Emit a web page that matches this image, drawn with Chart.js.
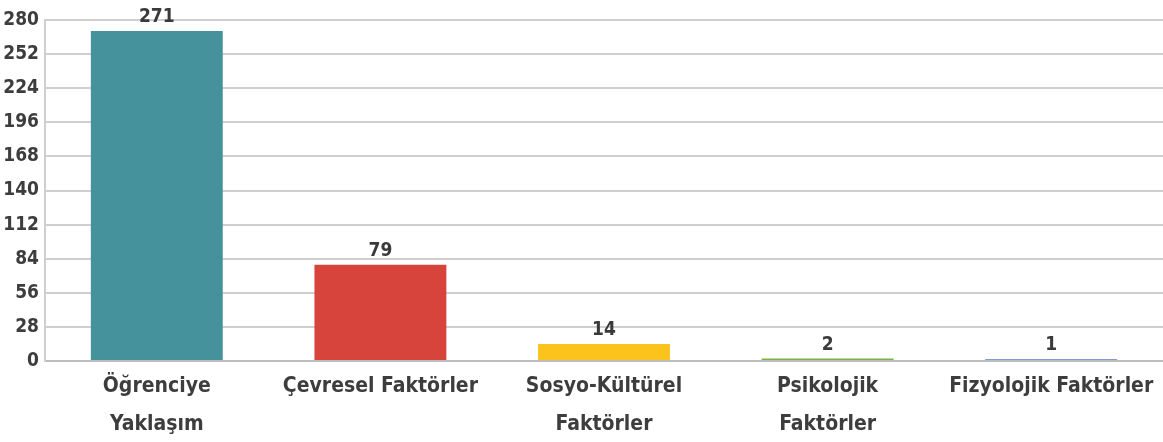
<!DOCTYPE html>
<html>
<head>
<meta charset="utf-8">
<script src="https://cdn.jsdelivr.net/npm/chart.js@4"></script>
<style>
  html, body { margin: 0; padding: 0; background: #fff; }
  #wrap { width: 1163px; height: 442px; }
</style>
</head>
<body>
<div id="wrap"><canvas id="grafik"></canvas></div>
<script>
// kategoriler ve değerler
const kategoriler = [
  ["Öğrenciye", "Yaklaşım"],
  "Çevresel Faktörler",
  ["Sosyo-Kültürel", "Faktörler"],
  ["Psikolojik", "Faktörler"],
  "Fizyolojik Faktörler"
];
const degerler = [271, 79, 14, 2, 1];
const renkler = ["#46929c", "#d6443c", "#fbc31c", "#79b346", "#7b9fd5"];
const yEksenMax = 280;
const yEksenAdim = 28;

const yazi = "'Liberation Sans Narrow', 'DejaVu Sans Condensed', sans-serif";

// çubukların üstüne değer yaz
const degerEtiketi = {
  id: "degerEtiketi",
  afterDatasetsDraw(chart) {
    const ctx = chart.ctx;
    const meta = chart.getDatasetMeta(0);
    ctx.save();
    ctx.font = "bold 19px " + yazi;
    ctx.fillStyle = "#3a3a3a";
    ctx.textAlign = "center";
    ctx.textBaseline = "bottom";
    meta.data.forEach((bar, i) => {
      ctx.fillText(String(degerler[i]), bar.x, bar.y - 4);
    });
    ctx.restore();
  }
};

const config = {
  type: "bar",
  data: {
    labels: kategoriler,
    datasets: [{
      data: degerler,
      backgroundColor: renkler,
      barPercentage: 0.59,
      categoryPercentage: 1,
      minBarLength: 2
    }]
  },
  options: {
    responsive: true,
    maintainAspectRatio: false,
    animation: false,
    layout: { padding: { top: 20, right: 0, left: 0, bottom: 0 } },
    plugins: {
      legend: { display: false },
      tooltip: { enabled: false }
    },
    scales: {
      x: {
        grid: { display: false, drawTicks: false },
        border: { color: "#bdbdbd", width: 2 },
        ticks: {
          color: "#3d3d3d",
          padding: 7,
          maxRotation: 0,
          autoSkip: false,
          font: { family: yazi, size: 21, weight: "bold", lineHeight: 1.8 }
        },
        afterFit(scale) { scale.height = 81; }
      },
      y: {
        min: 0,
        max: yEksenMax,
        grid: { color: "#cfcfcf", lineWidth: 2, drawTicks: false },
        border: { color: "#cfcfcf", width: 2 },
        ticks: {
          stepSize: yEksenAdim,
          color: "#3d3d3d",
          padding: 6,
          font: { family: yazi, size: 19, weight: "bold" }
        },
        afterFit(scale) { scale.width = 45; }
      }
    }
  },
  plugins: [degerEtiketi]
};

new Chart(document.getElementById("grafik"), config);
</script>
</body>
</html>
